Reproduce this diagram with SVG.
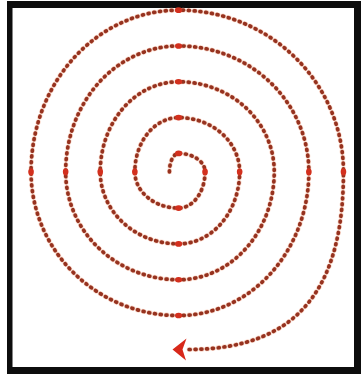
<svg xmlns="http://www.w3.org/2000/svg" width="361" height="374" viewBox="0 0 361 374">
<style>
.halo{fill:none;stroke:#f3b49a;stroke-width:5;stroke-linecap:round;stroke-dasharray:1 4.8;opacity:0.55}
.dots{fill:none;stroke:#96321f;stroke-width:3.7;stroke-linecap:round;stroke-dasharray:1 4.8}
.big{fill:#d3301e}
.frame{fill:#0d0d0d}
</style>
<defs>
<path id="spiralPath" d="M169.45,171.8 A9.15,18.4 0 0 1 178.6,153.4 A26.45,18.4 0 0 1 205.05,171.8 A26.45,36.3 0 0 1 178.6,208.1 A43.75,36.3 0 0 1 134.85,171.8 A43.75,54.2 0 0 1 178.6,117.6 A61.05,54.2 0 0 1 239.65,171.8 A61.05,72.1 0 0 1 178.6,243.9 A78.35,72.1 0 0 1 100.25,171.8 A78.35,90.05 0 0 1 178.6,81.75 A95.65,90.05 0 0 1 274.25,171.8 A95.65,107.95 0 0 1 178.6,279.75 A112.95,107.95 0 0 1 65.65,171.8 A112.95,125.86 0 0 1 178.6,45.94 A130.25,125.86 0 0 1 308.85,171.8 A130.25,143.76 0 0 1 178.6,315.56 A147.55,143.76 0 0 1 31.05,171.8 A147.55,161.67 0 0 1 178.6,10.13 A164.85,161.67 0 0 1 343.45,171.8 C343.45,280 305,349.5 188,349.5"/>
</defs>
<rect width="361" height="374" fill="#ffffff"/>
<g id="frame">
<rect class="frame" x="7" y="1" width="5.5" height="373"/>
<rect class="frame" x="7" y="1" width="354" height="7"/>
<rect class="frame" x="7" y="367" width="354" height="7"/>
<rect class="frame" x="354" y="1" width="7" height="373"/>
</g>
<g id="spiral">
<use href="#spiralPath" class="halo"/>
<use href="#spiralPath" class="dots"/>
</g>
<g id="markers">
<ellipse class="big" cx="178.6" cy="153.4" rx="3.6" ry="2.8"/>
<ellipse class="big" cx="178.6" cy="117.6" rx="3.6" ry="2.8"/>
<ellipse class="big" cx="178.6" cy="81.75" rx="3.6" ry="2.8"/>
<ellipse class="big" cx="178.6" cy="45.94" rx="3.6" ry="2.8"/>
<ellipse class="big" cx="178.6" cy="10.13" rx="3.6" ry="2.8"/>
<ellipse class="big" cx="178.6" cy="208.1" rx="3.6" ry="2.8"/>
<ellipse class="big" cx="178.6" cy="243.9" rx="3.6" ry="2.8"/>
<ellipse class="big" cx="178.6" cy="279.75" rx="3.6" ry="2.8"/>
<ellipse class="big" cx="178.6" cy="315.56" rx="3.6" ry="2.8"/>
<ellipse class="big" cx="134.85" cy="171.8" rx="2.8" ry="3.6"/>
<ellipse class="big" cx="100.25" cy="171.8" rx="2.8" ry="3.6"/>
<ellipse class="big" cx="65.65" cy="171.8" rx="2.8" ry="3.6"/>
<ellipse class="big" cx="31.05" cy="171.8" rx="2.8" ry="3.6"/>
<ellipse class="big" cx="205.05" cy="171.8" rx="2.8" ry="3.6"/>
<ellipse class="big" cx="239.65" cy="171.8" rx="2.8" ry="3.6"/>
<ellipse class="big" cx="308.85" cy="171.8" rx="2.8" ry="3.6"/>
<ellipse class="big" cx="343.45" cy="171.8" rx="2.8" ry="3.6"/>
</g>
<g id="arrowhead">
<polygon points="172.5,349.5 186.5,338.5 182.5,349.5 186,360.5" fill="#d8281a"/>
</g>
</svg>
